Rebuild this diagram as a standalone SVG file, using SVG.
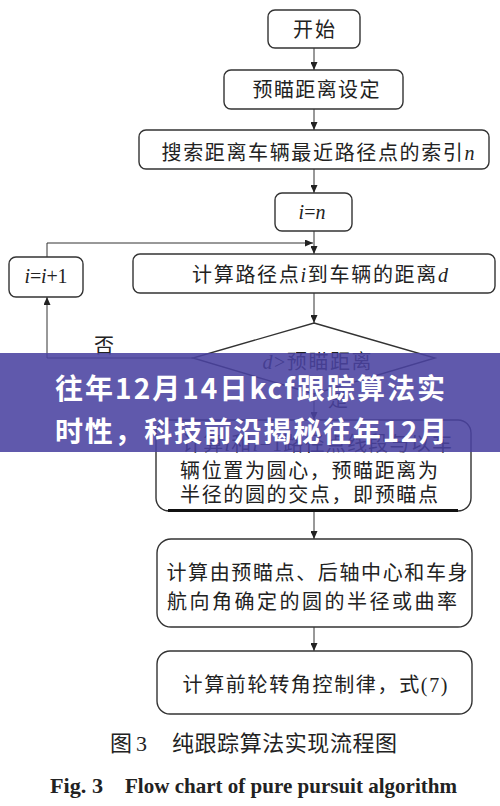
<svg xmlns="http://www.w3.org/2000/svg" width="500" height="806" viewBox="0 0 500 806">
<defs>
<marker id="ah" markerUnits="userSpaceOnUse" markerWidth="8" markerHeight="7" refX="8" refY="3.5" orient="auto">
<path d="M0,0 L8,3.5 L0,7 z" fill="#222"/>
</marker>
<style>
.box{fill:#fff;stroke:#333;stroke-width:1.4}
.ln{fill:none;stroke:#333;stroke-width:1}
.t{font-family:"Liberation Serif","Noto Sans CJK SC",serif;font-size:20px;fill:#222;text-anchor:middle}
.it{font-style:italic}
.cap{font-family:"Liberation Serif","Noto Sans CJK SC",serif;font-size:22px;fill:#222}
.ban{font-family:"Noto Sans CJK SC","Noto Sans",sans-serif;font-size:28px;font-weight:bold;fill:#fff;text-anchor:middle}
</style>
</defs>
<rect width="500" height="806" fill="#fff"/>

<g id="connectors">
<line class="ln" x1="314" y1="48" x2="314" y2="70" marker-end="url(#ah)"/>
<line class="ln" x1="314" y1="109" x2="314" y2="130" marker-end="url(#ah)"/>
<line class="ln" x1="314" y1="169" x2="314" y2="193" marker-end="url(#ah)"/>
<line class="ln" x1="314" y1="231" x2="314" y2="254" marker-end="url(#ah)"/>
<polyline class="ln" points="47,257 47,243 313,243" marker-end="url(#ah)"/>
<line class="ln" x1="314" y1="293" x2="314" y2="323" marker-end="url(#ah)"/>
<polyline class="ln" points="193,358 47,358 47,297" marker-end="url(#ah)"/>
<line class="ln" x1="314" y1="394" x2="314" y2="420" marker-end="url(#ah)"/>
<line class="ln" x1="314" y1="511" x2="314" y2="539" marker-end="url(#ah)"/>
<line class="ln" x1="314" y1="627" x2="314" y2="651" marker-end="url(#ah)"/>
<text class="t" x="104" y="353">否</text>
<text class="t" x="338" y="407">是</text>
</g>

<g id="start">
<rect class="box" x="268" y="10" width="92" height="38" rx="7"/>
<text class="t" x="314" y="37" textLength="42" lengthAdjust="spacing">开始</text>
</g>
<g id="preview">
<rect class="box" x="224" y="70" width="179" height="39" rx="7"/>
<text class="t" x="316" y="97" textLength="127" lengthAdjust="spacing">预瞄距离设定</text>
</g>
<g id="search">
<rect class="box" x="139" y="130" width="350" height="39" rx="7"/>
<text class="t" x="318" y="160" textLength="313" lengthAdjust="spacing">搜索距离车辆最近路径点的索引<tspan class="it">n</tspan></text>
</g>
<g id="init">
<rect class="box" x="275" y="193" width="77" height="38" rx="7"/>
<text class="t" x="312" y="219"><tspan class="it">i</tspan>=<tspan class="it">n</tspan></text>
</g>
<g id="inc">
<rect class="box" x="9" y="257" width="74" height="40" rx="7"/>
<text class="t" x="46" y="283" textLength="43" lengthAdjust="spacing"><tspan class="it">i</tspan>=<tspan class="it">i</tspan>+1</text>
</g>
<g id="dist">
<rect class="box" x="133" y="254" width="362" height="39" rx="7"/>
<text class="t" x="320" y="282" textLength="256" lengthAdjust="spacing">计算路径点<tspan class="it">i</tspan>到车辆的距离<tspan class="it">d</tspan></text>
</g>
<g id="decision">
<polygon class="box" points="314,323 435,358 314,394 193,358"/>
<text class="t" x="317" y="369" textLength="109" lengthAdjust="spacing"><tspan class="it">d</tspan>&gt;预瞄距离</text>
</g>
<g id="intersect">
<rect class="box" x="156" y="420" width="315" height="91" rx="13"/>
<line x1="168" y1="510.5" x2="458" y2="510.5" stroke="#111" stroke-width="3"/>
<text class="t" x="317" y="451" textLength="270" lengthAdjust="spacing">计算<tspan class="it">i</tspan>和<tspan class="it">i</tspan>−1路径点线段与以车</text>
<text class="t" x="309" y="478" textLength="258" lengthAdjust="spacing">辆位置为圆心，预瞄距离为</text>
<text class="t" x="309" y="502" textLength="258" lengthAdjust="spacing">半径的圆的交点，即预瞄点</text>
</g>
<g id="radius">
<rect class="box" x="157" y="539" width="315" height="88" rx="14"/>
<text class="t" x="317" y="580" textLength="301" lengthAdjust="spacing">计算由预瞄点、后轴中心和车身</text>
<text class="t" x="312" y="609" textLength="290" lengthAdjust="spacing">航向角确定的圆的半径或曲率</text>
</g>
<g id="steer">
<rect class="box" x="157" y="651" width="315" height="63" rx="13"/>
<text class="t" x="315" y="692" textLength="265" lengthAdjust="spacing">计算前轮转角控制律，式(7)</text>
</g>

<g id="caption">
<text class="cap" x="110" y="751" textLength="37" lengthAdjust="spacing">图 3</text>
<text class="cap" x="172" y="751" textLength="225" lengthAdjust="spacing">纯跟踪算法实现流程图</text>
<text class="cap" x="50" y="793" font-weight="bold" textLength="53" lengthAdjust="spacingAndGlyphs">Fig. 3</text>
<text class="cap" x="125" y="793" font-weight="bold" textLength="332" lengthAdjust="spacingAndGlyphs">Flow chart of pure pursuit algorithm</text>
</g>

<g id="banner">
<rect x="0" y="353" width="500" height="99" fill="#4a42a0" fill-opacity="0.88"/>
<text class="ban" x="250" y="399" textLength="390" lengthAdjust="spacing">往年12月14日kcf跟踪算法实</text>
<text class="ban" x="251" y="442" textLength="392" lengthAdjust="spacing">时性，科技前沿揭秘往年12月</text>
</g>
</svg>
